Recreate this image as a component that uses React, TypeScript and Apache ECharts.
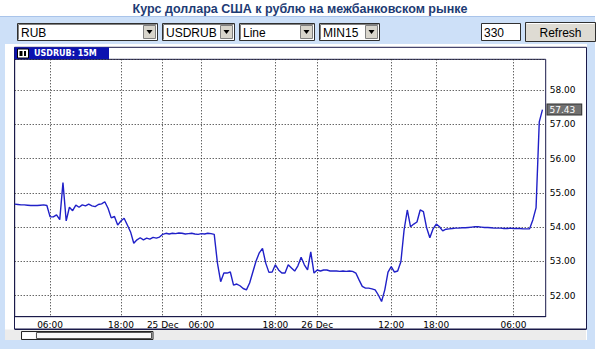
import React, { useEffect, useRef } from "react";
import * as echarts from "echarts";

// USD/RUB, 30-minute samples (index 0 = left edge of plot)
const usdRub: number[] = [
  54.67, 54.66, 54.65, 54.65, 54.64, 54.63, 54.63, 54.63, 54.64, 54.65,
  54.63, 54.30, 54.30, 54.36, 54.22, 55.30, 54.18, 54.58, 54.48, 54.64,
  54.58, 54.65, 54.62, 54.67, 54.62, 54.60, 54.66, 54.68, 54.74, 54.55,
  54.27, 54.31, 54.06, 54.18, 54.26, 54.06, 53.86, 53.53, 53.63, 53.69,
  53.63, 53.68, 53.65, 53.70, 53.68, 53.71, 53.79, 53.82, 53.80, 53.82,
  53.81, 53.83, 53.82, 53.80, 53.81, 53.82, 53.80, 53.79, 53.81, 53.80,
  53.82, 53.81, 53.79, 52.95, 52.41, 52.66, 52.66, 52.69, 52.31, 52.34,
  52.29, 52.21, 52.17, 52.37, 52.69, 53.01, 53.25, 53.38, 52.95, 52.68,
  52.69, 52.90, 52.75, 52.66, 52.66, 52.90, 52.81, 52.72, 52.87, 53.12,
  52.90, 52.75, 53.28, 52.66, 52.75, 52.72, 52.75, 52.75, 52.72, 52.72,
  52.72, 52.71, 52.72, 52.71, 52.72, 52.71, 52.66, 52.46, 52.27, 52.22,
  52.22, 52.20, 52.17, 52.02, 51.83, 52.17, 52.69, 52.85, 52.69, 52.72,
  52.99, 53.92, 54.50, 54.01, 54.09, 54.15, 54.50, 54.45, 53.98, 53.69,
  53.95, 54.09, 54.01, 53.89, 53.94, 53.95, 53.96, 53.97, 53.97, 53.98,
  53.98, 53.99, 54.00, 54.01, 54.01, 54.00, 53.99, 53.99, 53.98, 53.97,
  53.97, 53.97, 53.96, 53.96, 53.97, 53.96, 53.96, 53.96, 53.95, 53.95,
  53.95, 54.21, 54.56, 57.07, 57.43,
];

// number of category slots on the x axis (one extra empty slot at the right)
const slotCount = 166;

// x-axis tick labels: category index -> text
const tickIndex: number[] = [11, 33, 46, 58, 81, 94, 117, 131, 155];
const tickText: string[] = [
  "06:00", "18:00", "25 Dec", "06:00", "18:00", "26 Dec", "12:00", "18:00", "06:00",
];

const yMin = 51.387;
const yMax = 58.896;

const titleText = "Курс доллара США к рублю на межбанковском рынке";
const selectTexts = ["RUB", "USDRUB", "Line", "MIN15"];
const barsText = "330";
const buttonText = "Refresh";
const tabText = "USDRUB: 15M";

const categories: string[] = Array.from({ length: slotCount }, (_, i) => {
  const k = tickIndex.indexOf(i);
  return k >= 0 ? tickText[k] : "";
});
const tickSet = new Set(tickIndex);

const LIGHT = "#cde0f8";
const FRAME = "#1a1a4a";

function buildGraphics() {
  const els: any[] = [];
  // light blue surround
  els.push({ type: "rect", shape: { x: 0, y: 16, width: 595, height: 28 }, style: { fill: LIGHT }, silent: true });
  els.push({ type: "rect", shape: { x: 0, y: 44, width: 5, height: 305 }, style: { fill: LIGHT }, silent: true });
  els.push({ type: "rect", shape: { x: 587, y: 44, width: 8, height: 305 }, style: { fill: LIGHT }, silent: true });
  els.push({ type: "rect", shape: { x: 0, y: 340, width: 595, height: 9 }, style: { fill: LIGHT }, silent: true });
  els.push({ type: "line", shape: { x1: 0, y1: 16.5, x2: 595, y2: 16.5 }, style: { stroke: "#a9c4ea", lineWidth: 1 } });

  // title
  els.push({
    type: "text", x: 300, y: 9,
    style: {
      text: titleText, fill: "#1d3b74", font: "bold 12.5px 'Liberation Sans', Arial, sans-serif",
      align: "center", verticalAlign: "middle", textAlign: "center", textVerticalAlign: "middle",
    },
  });

  // select boxes
  const boxes = [
    { x: 17, w: 140 },
    { x: 162, w: 72 },
    { x: 239, w: 75 },
    { x: 319, w: 60 },
  ];
  boxes.forEach((b, i) => {
    els.push({ type: "rect", shape: { x: b.x + 0.5, y: 23.5, width: b.w, height: 17 }, style: { fill: "#ffffff", stroke: "#303030", lineWidth: 1 } });
    els.push({ type: "polyline", shape: { points: [[b.x + 1.5, 39.5], [b.x + 1.5, 24.5], [b.x + b.w - 0.5, 24.5]] }, style: { stroke: "#808080", lineWidth: 1, fill: "none" } });
    const ax = b.x + b.w - 14;
    els.push({ type: "rect", shape: { x: ax + 0.5, y: 25.5, width: 12, height: 13 }, style: { fill: "#d8d5cc", stroke: "#808080", lineWidth: 1 } });
    els.push({ type: "polygon", shape: { points: [[ax + 3.5, 30], [ax + 9.5, 30], [ax + 6.5, 34]] }, style: { fill: "#000" } });
    els.push({
      type: "text", x: b.x + 4, y: 32.5,
      style: {
        text: selectTexts[i], fill: "#000", font: "12px 'Liberation Sans', Arial, sans-serif",
        align: "left", verticalAlign: "middle", textAlign: "left", textVerticalAlign: "middle",
      },
    });
  });

  // bars input
  els.push({ type: "rect", shape: { x: 481.5, y: 23.5, width: 39, height: 17 }, style: { fill: "#ffffff", stroke: "#303030", lineWidth: 1 } });
  els.push({
    type: "text", x: 484, y: 32.5,
    style: {
      text: barsText, fill: "#000", font: "12px 'Liberation Sans', Arial, sans-serif",
      align: "left", verticalAlign: "middle", textAlign: "left", textVerticalAlign: "middle",
    },
  });
  // refresh button
  els.push({ type: "rect", shape: { x: 525.5, y: 22.5, width: 70, height: 19 }, style: { fill: "#dedbd3", stroke: "#303030", lineWidth: 1 } });
  els.push({ type: "line", shape: { x1: 526.5, y1: 23.5, x2: 594.5, y2: 23.5 }, style: { stroke: "#ffffff", lineWidth: 1 } });
  els.push({
    type: "text", x: 560.5, y: 32.5,
    style: {
      text: buttonText, fill: "#000", font: "12px 'Liberation Sans', Arial, sans-serif",
      align: "center", verticalAlign: "middle", textAlign: "center", textVerticalAlign: "middle",
    },
  });

  // chart frame
  els.push({ type: "rect", shape: { x: 14.5, y: 47.3, width: 572, height: 281.7 }, style: { fill: "none", stroke: FRAME, lineWidth: 1 } });
  // tab
  els.push({ type: "rect", shape: { x: 14.5, y: 47.3, width: 94.5, height: 12 }, style: { fill: "#0c12b0" } });
  els.push({ type: "rect", shape: { x: 17.5, y: 49, width: 11, height: 9 }, style: { fill: "#ffffff", stroke: "#000", lineWidth: 1 } });
  els.push({ type: "rect", shape: { x: 19.5, y: 51, width: 3, height: 5 }, style: { fill: "#000" } });
  els.push({ type: "rect", shape: { x: 24, y: 51, width: 2, height: 5 }, style: { fill: "#000" } });
  els.push({
    type: "text", x: 34, y: 53.5,
    style: {
      text: tabText, fill: "#ffffff", font: "bold 8px 'DejaVu Sans', Verdana, sans-serif",
      align: "left", verticalAlign: "middle", textAlign: "left", textVerticalAlign: "middle",
    },
  });

  // scroll area
  els.push({ type: "rect", shape: { x: 5, y: 329.5, width: 581, height: 10.5 }, style: { fill: "#ececec" } });
  els.push({ type: "line", shape: { x1: 14.5, y1: 329.5, x2: 586.5, y2: 329.5 }, style: { stroke: FRAME, lineWidth: 1 } });
  els.push({ type: "rect", shape: { x: 21.5, y: 331.5, width: 131.5, height: 8 }, style: { fill: "#f2f2f2", stroke: "#222", lineWidth: 1 } });
  els.push({ type: "rect", shape: { x: 22.5, y: 332.5, width: 13, height: 6 }, style: { fill: "#ffffff" } });
  els.push({ type: "rect", shape: { x: 36.5, y: 332.5, width: 115, height: 6 }, style: { fill: "#f7f7f7", stroke: "#555", lineWidth: 1 } });
  return els;
}

export default function App() {
  const ref = useRef<HTMLDivElement>(null);

  useEffect(() => {
    if (!ref.current) return;
    const chart = echarts.init(ref.current, undefined, { renderer: "svg" });
    const axisFont = "'DejaVu Sans', Verdana, sans-serif";
    chart.setOption({
      animation: false,
      backgroundColor: "#ffffff",
      grid: {
        left: 14.7, right: 54.3, top: 59.3, bottom: 32.3,
        show: true, borderColor: FRAME, borderWidth: 1, backgroundColor: "transparent",
      },
      xAxis: {
        type: "category",
        data: categories,
        boundaryGap: false,
        axisLine: { show: true, lineStyle: { color: FRAME, width: 1 } },
        axisTick: { show: false },
        axisLabel: {
          interval: (i: number) => tickSet.has(i),
          color: "#000", fontSize: 9, fontFamily: axisFont, margin: 4,
        },
        splitLine: {
          show: true,
          interval: (i: number) => tickSet.has(i),
          lineStyle: { color: "#222", type: [1, 2], width: 1 },
        },
      },
      yAxis: {
        type: "value",
        position: "right",
        min: yMin,
        max: yMax,
        splitNumber: 7,
        axisLine: { show: false },
        axisTick: { show: false },
        axisLabel: {
          showMinLabel: false, showMaxLabel: false,
          formatter: (v: number) => v.toFixed(2),
          color: "#000", fontSize: 9, fontFamily: axisFont, margin: 4,
        },
        splitLine: { show: true, lineStyle: { color: "#222", type: [1, 2], width: 1 } },
      },
      series: [
        {
          type: "line",
          data: usdRub,
          showSymbol: false,
          symbol: "none",
          lineStyle: { color: "#2020c8", width: 1.4 },
          endLabel: {
            show: true,
            formatter: (p: any) => Number(p.value).toFixed(2),
            backgroundColor: "#707070",
            borderColor: "#333",
            borderWidth: 1,
            color: "#ffffff",
            fontSize: 9,
            fontFamily: axisFont,
            padding: [1, 6, 0, 2],
            distance: 5,
          },
        },
      ],
      graphic: { elements: buildGraphics() },
    });
    return () => chart.dispose();
  }, []);

  return (
    <div
      ref={ref}
      style={{ position: "fixed", left: 0, top: 0, width: 600, height: 349 }}
    />
  );
}
